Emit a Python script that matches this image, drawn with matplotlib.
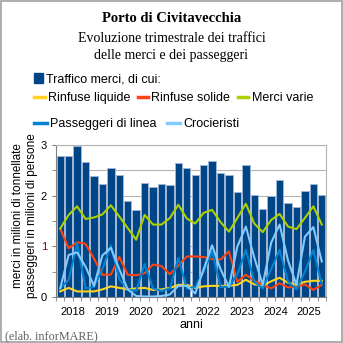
import numpy as np
import matplotlib
matplotlib.use('Agg')
import matplotlib.pyplot as plt
from matplotlib.lines import Line2D
from matplotlib.patches import Patch, Rectangle

# quarterly data 2018Q1 .. 2025Q4
years = ['2018', '2019', '2020', '2021', '2022', '2023', '2024', '2025']
traffico_merci = [2.79, 2.79, 2.99, 2.66, 2.38, 2.23, 2.54, 2.40,
                  1.90, 1.71, 2.25, 2.18, 2.23, 2.21, 2.65, 2.55,
                  2.40, 2.61, 2.68, 2.44, 2.40, 2.08, 2.61, 2.01,
                  1.74, 1.99, 2.30, 1.86, 1.78, 2.09, 2.24, 2.01]
rinfuse_liquide = [0.11, 0.18, 0.11, 0.11, 0.11, 0.15, 0.21, 0.18,
                   0.15, 0.17, 0.18, 0.14, 0.15, 0.18, 0.24, 0.24,
                   0.18, 0.21, 0.22, 0.22, 0.22, 0.24, 0.34, 0.25,
                   0.22, 0.31, 0.38, 0.28, 0.24, 0.30, 0.32, 0.32]
rinfuse_solide = [1.35, 0.96, 1.08, 1.05, 0.76, 0.44, 0.44, 0.79,
                  0.44, 0.43, 0.47, 0.64, 0.61, 0.45, 0.62, 0.80,
                  0.80, 0.79, 0.75, 0.74, 0.90, 0.30, 0.44, 0.32,
                  0.24, 0.17, 0.27, 0.19, 0.20, 0.25, 0.14, 0.24]
merci_varie = [1.35, 1.62, 1.79, 1.54, 1.57, 1.63, 1.81, 1.59,
               1.36, 1.13, 1.62, 1.43, 1.43, 1.56, 1.82, 1.55,
               1.45, 1.66, 1.72, 1.48, 1.29, 1.56, 1.84, 1.45,
               1.28, 1.52, 1.64, 1.39, 1.34, 1.56, 1.79, 1.43]
passeggeri_linea = [0.17, 0.34, 1.06, 0.17, 0.20, 0.55, 1.02, 0.35,
                    0.15, 0.12, 0.65, 0.17, 0.12, 0.17, 0.77, 0.17,
                    0.20, 0.50, 0.90, 0.20, 0.20, 0.45, 0.93, 0.30,
                    0.17, 0.55, 0.93, 0.30, 0.15, 0.50, 0.93, 0.25]
crocieristi = [0.17, 0.83, 0.88, 0.60, 0.22, 0.82, 0.97, 0.55,
               0.15, 0.02, 0.01, 0.01, 0.02, 0.05, 0.22, 0.22,
               0.07, 0.55, 1.02, 0.55, 0.20, 1.00, 1.39, 0.78,
               0.24, 1.07, 1.43, 0.72, 0.24, 1.19, 1.38, 0.70]

c_bar = '#004586'
c_liq = '#FFD320'
c_sol = '#FF420E'
c_var = '#AECF00'
c_lin = '#0084D1'
c_cro = '#83CAFF'

sans = 'Liberation Sans'
serif = 'Liberation Serif'

fig = plt.figure(figsize=(3.43, 3.43), dpi=100)
fig.patches.append(Rectangle((0.002, 0.002), 0.995, 0.995, transform=fig.transFigure,
                             fill=False, edgecolor='#a0a0a0', lw=1.2))

ax = fig.add_axes([56/343, 46/343, 270/343, 152/343])
x = np.arange(len(traffico_merci))
ax.bar(x, traffico_merci, width=0.88, color=c_bar, edgecolor='#9fb6d6', lw=0.7, zorder=2)
lw = 1.5
ax.plot(x, rinfuse_liquide, color=c_liq, lw=lw, zorder=3)
ax.plot(x, rinfuse_solide, color=c_sol, lw=lw, zorder=3)
ax.plot(x, merci_varie, color=c_var, lw=lw, zorder=3)
ax.plot(x, passeggeri_linea, color=c_lin, lw=lw, zorder=3)
ax.plot(x, crocieristi, color=c_cro, lw=lw, zorder=3)

ax.set_xlim(-0.5, len(x) - 0.5)
ax.set_ylim(0, 3)
ax.set_yticks([0, 1, 2, 3])
ax.set_yticks(np.arange(0, 3.01, 0.5), minor=True)
ax.set_yticklabels(['0', '1', '2', '3'], fontsize=8, family=sans)
ax.get_yticklabels()[1].set_color('#7E0021')
ax.yaxis.grid(True, which='both', color='#b3b3b3', lw=0.8, zorder=0)
ax.set_axisbelow(True)

# year labels on major ticks, quarter boundaries as minor ticks
ax.xaxis.remove_overlapping_locs = False
ax.set_xticks([4*i + 1.5 for i in range(len(years))])
ax.set_xticklabels(years, fontsize=8, family=sans)
ax.set_xticks(np.arange(-0.5, len(x), 1.0), minor=True)
ax.tick_params(axis='x', which='major', length=0, pad=7)
ax.tick_params(axis='x', which='minor', length=3, color='#808080')
ax.tick_params(axis='y', which='both', length=3, color='#808080')

for s in ax.spines.values():
    s.set_color('#b3b3b3')
ax.spines['left'].set_color('#808080')
ax.spines['bottom'].set_color('#808080')

ax.set_xlabel('anni', fontsize=9, family=sans, labelpad=2)
fig.text(18/343, 1 - 216/343, 'merci in milioni di tonnellate', rotation=90,
         ha='center', va='center', fontsize=8.5, family=sans)
fig.text(32/343, 1 - 216/343, 'passeggeri in milioni di persone', rotation=90,
         ha='center', va='center', fontsize=8.5, family=sans)

fig.text(0.5, 1 - 18/343, 'Porto di Civitavecchia', ha='center', va='center',
         fontsize=10.5, fontweight='bold', family=serif)
fig.text(0.5, 1 - 38/343, 'Evoluzione trimestrale dei traffici', ha='center', va='center',
         fontsize=10, family=serif)
fig.text(0.5, 1 - 56/343, 'delle merci e dei passeggeri', ha='center', va='center',
         fontsize=10, family=serif)
fig.text(5/343, 1 - 336/343, '(elab. inforMARE)', ha='left', va='center',
         fontsize=8.7, family=serif, color='#606060')

lkw = dict(frameon=False, prop={'family': sans, 'size': 9},
           handletextpad=0.25, borderpad=0, borderaxespad=0)
fig.legend([Patch(color=c_bar)], ['Traffico merci, di cui:'], loc='center left',
           bbox_to_anchor=(34/343, 1 - 79/343), handleheight=0.9, handlelength=0.7, **lkw)
fig.legend([Line2D([], [], color=c_liq, lw=2.5), Line2D([], [], color=c_sol, lw=2.5),
            Line2D([], [], color=c_var, lw=2.5)],
           ['Rinfuse liquide', 'Rinfuse solide', 'Merci varie'], loc='center left',
           bbox_to_anchor=(34/343, 1 - 98/343), ncol=3, handlelength=0.85,
           columnspacing=0.6, **lkw)
fig.legend([Line2D([], [], color=c_lin, lw=2.5), Line2D([], [], color=c_cro, lw=2.5)],
           ['Passeggeri di linea', 'Crocieristi'], loc='center left',
           bbox_to_anchor=(34/343, 1 - 124/343), ncol=2, handlelength=1.0,
           columnspacing=0.9, **lkw)

fig.savefig('out.png', dpi=100)
